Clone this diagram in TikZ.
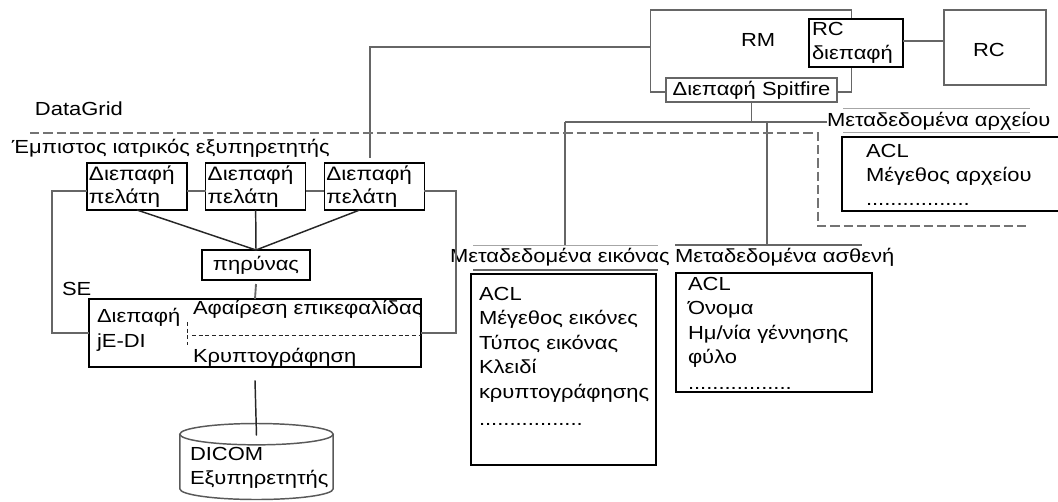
\documentclass[tikz,border=0pt]{standalone}
\usepackage{fontspec}
\setmainfont[FakeStretch=1.16]{Liberation Sans}
\usetikzlibrary{positioning}

\begin{document}
\begin{tikzpicture}[
    x=0.75pt, y=-0.75pt,
    node distance=14pt,
    font=\fontsize{14.2}{18.4}\selectfont,
    box/.style={draw, line width=1pt, inner sep=0pt, outer sep=0pt, fill=white},
    softbox/.style={draw=black!60, line width=1.4pt, inner sep=0pt, outer sep=0pt, fill=white},
    client/.style={box, line width=1.2pt, inner xsep=1.5pt, text width=72pt, minimum height=35.25pt, align=left, font=\fontsize{14.6}{17.25}\selectfont},
    txt/.style={inner sep=0pt, outer sep=0pt, anchor=west, align=left},
    link/.style={draw=black!60, line width=1.4pt},
    dark/.style={draw=black!85, line width=1.1pt},
    drum/.style={draw=black!65, line width=1.1pt},
    bound/.style={draw=black!55, line width=1.2pt, dash pattern=on 7pt off 3pt},
    rim/.style={draw=black!35, line width=0.6pt}
]
\useasboundingbox (0,0) rectangle (1058,501);

% replica manager side
\node[softbox, minimum width=150.75pt, minimum height=61.5pt] (rm) at (751,51) {};
\node[txt] (rmtxt) at (741,40) {RM};
\node[box, minimum width=70.5pt, minimum height=36pt] (rcif) at (856,43) {};
\node[txt] (rciftxt) at (812,43) {RC\\διεπαφή};
\node[softbox, minimum width=76.5pt, minimum height=56.25pt] (rc) at (995,47.5) {};
\node[txt] (rctxt) at (973,50) {RC};
\node[softbox, line width=1pt, minimum width=128.25pt, minimum height=18pt] (spit) at (751.5,90) {Διεπαφή Spitfire};

\coordinate (rmleft) at (650,47);
\coordinate (servertop) at (370,158);
\coordinate (busleft) at (565,122);
\coordinate (imgtop) at (565,245);
\coordinate (pattop) at (767,245);

% metadata
\node[txt] (filelabel) at (827,121) {Μεταδεδομένα αρχείου};
\node[box, minimum width=165pt, minimum height=55.5pt, anchor=north west] (filebox) at (842,137) {};
\node[txt] (filetxt) at (866,165) {ACL\\Μέγεθος αρχείου};
\node[txt] (filedots) at (866,204) {.................};

\node[txt] (imglabel) at (450,257) {Μεταδεδομένα εικόνας};
\node[txt] (patlabel) at (675,257) {Μεταδεδομένα ασθενή};
\node[box, minimum width=138.75pt, minimum height=143.25pt] (imgbox) at (563.5,369.5) {};
\node[txt, anchor=north west] (imgtxt) at (479,287) {ACL\\Μέγεθος εικόνες\\Τύπος εικόνας\\Κλειδί\\κρυπτογράφησης\\[2pt].................};
\node[box, minimum width=147pt, minimum height=89.25pt] (patbox) at (774,332.5) {};
\node[txt, anchor=north west] (pattxt) at (688,277) {ACL\\Όνομα\\Ημ/νία γέννησης\\φύλο\\[1pt].................};

% trusted server
\node[txt] (gridlabel) at (35,109) {DataGrid};
\node[txt] (serverlabel) at (12,148) {Έμπιστος ιατρικός εξυπηρετητής};
\node[client] (c1) at (137,186.5) {Διεπαφή\\πελάτη};
\node[client, right=of c1] (c2) {Διεπαφή\\πελάτη};
\node[client, right=of c2] (c3) {Διεπαφή\\πελάτη};
\node[box, minimum width=81pt, minimum height=22.5pt] (relay) at (256,265) {πηρύνας};
\node[box, line width=1.2pt, minimum width=249pt, minimum height=51pt] (se) at (255,333) {};
\node[txt] (selabel) at (62,289) {SE};
\node[txt] (setxt) at (97,330) {Διεπαφή\\jE-DI};
\begin{scope}
\clip (se.south west) rectangle (se.north east);
\node[txt] (strip) at (193,309) {Αφαίρεση επικεφαλίδας};
\end{scope}
\node[txt] (crypt) at (193,357) {Κρυπτογράφηση};

% server drum
\node[inner sep=0pt, outer sep=0pt, minimum width=115pt, minimum height=57pt] (dicom) at (256.5,461.5) {};
\draw[drum] ([yshift=-8pt]dicom.north) ellipse [x radius=57.5pt, y radius=8pt];
\draw[drum] ([yshift=-8pt]dicom.north west) -- ([yshift=8pt]dicom.south west) arc[start angle=180, end angle=360, x radius=57.5pt, y radius=8pt] -- ([yshift=-8pt]dicom.north east);
\node[txt] (dicomtxt) at (190,468) {DICOM\\Εξυπηρετητής};

\coordinate (leftbus) at (52,191);
\coordinate (rightbus) at (456,191);

% connectors
\draw[link] (rmleft) -| (servertop);
\draw[link] ([yshift=1.5pt]rcif.east) -- ([yshift=1.5pt]rcif.east -| rc.west);
\draw[link] (spit.south) -- (spit.south |- busleft);
\draw[link] (busleft) -- (filelabel.west |- busleft);
\draw[link] (busleft) -- (imgtop);
\draw[link] (pattop |- busleft) -- (pattop);
\draw[link] (c1.west |- leftbus) -- (leftbus) |- (se.west);
\draw[link] (c1.east |- leftbus) -- (c2.west |- leftbus);
\draw[link] (c2.east |- leftbus) -- (c3.west |- leftbus);
\draw[link] (c3.east |- rightbus) -- (rightbus) |- (se.east);
\draw[dark] (c1.south) -- (relay.north);
\draw[dark] (c2.south) -- (relay.north);
\draw[dark] ([xshift=-11pt]c3.south) -- (relay.north);
\draw[link] ([yshift=-3pt]relay.south) -- (se.north);
\draw[dark] ([yshift=-10pt]se.south) -- ([yshift=-9pt]dicom.north);

% partitions and label rims
\draw[bound] (30,133) -- (818,133) -- (818,226) -- (1030,226);
\draw[dark, densely dashed, line width=0.6pt] (192,335) -- (se.east |- 0,335);
\draw[dark, densely dashed, line width=0.6pt] (187,322) -- (187,345);
\draw[rim] (843,108) -- (1030,108);
\draw[rim] (843,132) -- (1030,132);
\draw[rim] (473,245) -- (658,245);
\draw[link, line width=0.8pt] (473,270) -- (658,270);
\draw[link, line width=0.8pt] (675,245) -- (862,245);
\end{tikzpicture}
\end{document}
